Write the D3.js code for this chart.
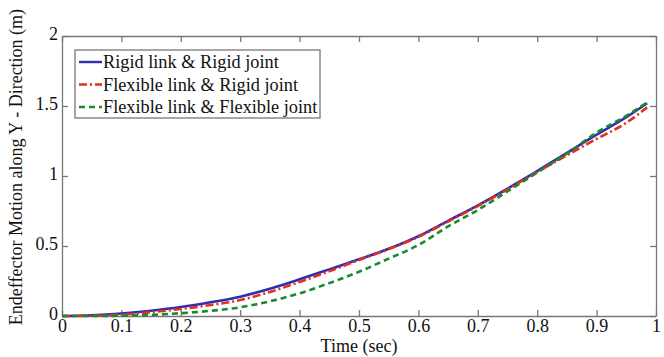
<!DOCTYPE html>
<html>
<head>
<meta charset="utf-8">
<script src="https://cdn.jsdelivr.net/npm/d3@7"></script>
<style>
	body { margin: 0; background: #fff; }
	svg { display: block; }
</style>
</head>
<body>
<div id="chart"></div>
<script>
// data
const time = [0, 0.05, 0.1, 0.15, 0.2, 0.25, 0.3, 0.35, 0.4, 0.45, 0.5, 0.55, 0.6, 0.65, 0.7, 0.75, 0.8, 0.85, 0.9, 0.95, 0.985];
const rigidRigid = [0, 0.005, 0.018, 0.038, 0.064, 0.098, 0.138, 0.195, 0.262, 0.333, 0.405, 0.48, 0.57, 0.68, 0.79, 0.91, 1.035, 1.165, 1.295, 1.42, 1.52];
const flexRigid = [0, 0.002, 0.01, 0.027, 0.05, 0.078, 0.114, 0.172, 0.243, 0.32, 0.4, 0.478, 0.565, 0.675, 0.785, 0.905, 1.028, 1.148, 1.265, 1.38, 1.49];
const flexFlex = [0, 0, 0.002, 0.008, 0.02, 0.037, 0.062, 0.105, 0.162, 0.235, 0.316, 0.41, 0.507, 0.64, 0.757, 0.89, 1.025, 1.16, 1.31, 1.43, 1.525];

const xTicks = [0, 0.1, 0.2, 0.3, 0.4, 0.5, 0.6, 0.7, 0.8, 0.9, 1];
const yTicks = [0, 0.5, 1, 1.5, 2];
const seriesNames = ['Rigid link & Rigid joint', 'Flexible link & Rigid joint', 'Flexible link & Flexible joint'];

const series = [
	{ name: seriesNames[0], values: rigidRigid, color: '#2e2eb4', dash: null },
	{ name: seriesNames[1], values: flexRigid, color: '#e0301e', dash: '8,3,2,3' },
	{ name: seriesNames[2], values: flexFlex, color: '#1b8a2c', dash: '6,4' }
];

const FONT = '"Liberation Serif", "Times New Roman", "DejaVu Serif", serif';

// sizes
const W = 664, H = 357;
const margin = { top: 36, right: 8, bottom: 41, left: 62 };
const width = W - margin.left - margin.right;
const height = H - margin.top - margin.bottom;

const svg = d3.select('#chart').append('svg')
	.attr('width', W)
	.attr('height', H)
	.attr('font-family', FONT);

const g = svg.append('g')
	.attr('transform', `translate(${margin.left},${margin.top})`);

const x = d3.scaleLinear().domain([0, 1]).range([0, width]);
const y = d3.scaleLinear().domain([0, 2]).range([height, 0]);

const axisColor = '#777';
const fmt = d => String(d);

// axes, ticks inward like matlab
const axBottom = g.append('g').attr('transform', `translate(0,${height})`)
	.call(d3.axisBottom(x).tickValues(xTicks).tickFormat(fmt).tickSizeInner(-6).tickSizeOuter(0).tickPadding(3));
const axTop = g.append('g')
	.call(d3.axisTop(x).tickValues(xTicks).tickFormat('').tickSizeInner(-6).tickSizeOuter(0));
const axLeft = g.append('g')
	.call(d3.axisLeft(y).tickValues(yTicks).tickFormat(fmt).tickSizeInner(-6).tickSizeOuter(0).tickPadding(4));
const axRight = g.append('g').attr('transform', `translate(${width},0)`)
	.call(d3.axisRight(y).tickValues(yTicks).tickFormat('').tickSizeInner(-6).tickSizeOuter(0));

[axBottom, axTop, axLeft, axRight].forEach(a => {
	a.attr('font-family', FONT);
	a.selectAll('path, line').attr('stroke', axisColor).attr('stroke-width', 1.3);
	a.selectAll('text').style('font-family', FONT).style('font-size', '18px').attr('fill', '#111');
});
axLeft.selectAll('text').attr('dy', '0.2em');

// lines
const line = d3.line()
	.x((d, i) => x(time[i]))
	.y(d => y(d))
	.curve(d3.curveMonotoneX);

series.forEach(s => {
	g.append('path')
		.datum(s.values)
		.attr('fill', 'none')
		.attr('stroke', s.color)
		.attr('stroke-width', 2.6)
		.attr('stroke-dasharray', s.dash)
		.attr('d', line);
});

// legend
const leg = g.append('g').attr('transform', 'translate(13,14)');
leg.append('rect')
	.attr('width', 245).attr('height', 68)
	.attr('fill', '#fff').attr('stroke', axisColor).attr('stroke-width', 1.3);
series.forEach((s, i) => {
	const yy = 12 + i * 22.5;
	leg.append('line')
		.attr('x1', 4).attr('x2', 27).attr('y1', yy).attr('y2', yy)
		.attr('stroke', s.color).attr('stroke-width', 2.4)
		.attr('stroke-dasharray', s.dash);
	leg.append('text')
		.attr('x', 28).attr('y', yy).attr('dy', '0.35em')
		.style('font-family', FONT)
		.style('font-size', '18.3px')
		.attr('fill', '#111')
		.text(s.name);
});

// axis titles
svg.append('text')
	.attr('x', margin.left + width / 2).attr('y', H - 5)
	.attr('text-anchor', 'middle')
	.style('font-family', FONT)
	.style('font-size', '18px')
	.attr('fill', '#111')
	.text('Time (sec)');

svg.append('text')
	.attr('transform', `translate(22,${margin.top + height / 2 - 9}) rotate(-90)`)
	.attr('text-anchor', 'middle')
	.style('font-family', FONT)
	.style('font-size', '18px')
	.attr('fill', '#111')
	.text('Endeffector Motion along Y - Direction (m)');
</script>
</body>
</html>
